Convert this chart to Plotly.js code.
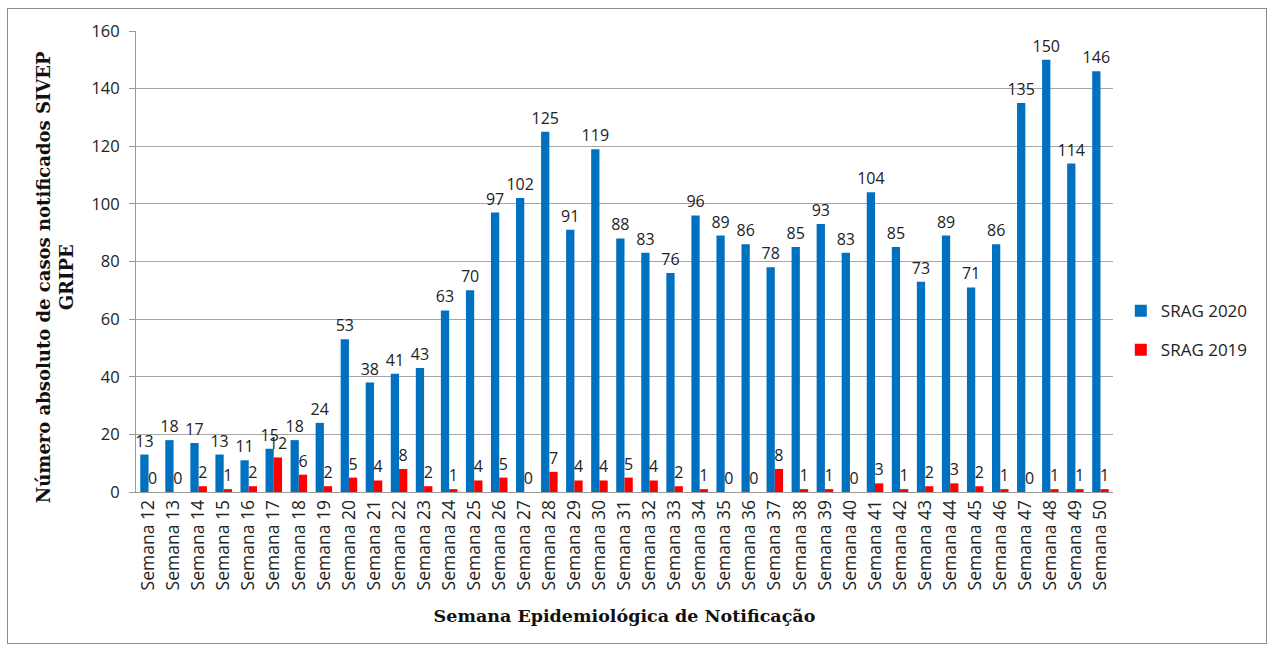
<!DOCTYPE html>
<html>
<head>
<meta charset="utf-8">
<script src="https://cdn.plot.ly/plotly-3.0.1.min.js"></script>
<style>
html,body{margin:0;padding:0;background:#fff;}
#frame{position:absolute;left:7px;top:8px;width:1260px;height:636px;border:1px solid #8c8c8c;box-sizing:border-box;}
#chart{position:absolute;left:0;top:0;width:1273px;height:647px;}
</style>
</head>
<body>
<div id="frame"></div>
<div id="chart"></div>
<script>
const weeks = [12,13,14,15,16,17,18,19,20,21,22,23,24,25,26,27,28,29,30,31,32,33,34,35,36,37,38,39,40,41,42,43,44,45,46,47,48,49,50];
const categories = weeks.map(w => "Semana " + w);
const srag2020 = [13,18,17,13,11,15,18,24,53,38,41,43,63,70,97,102,125,91,119,88,83,76,96,89,86,78,85,93,83,104,85,73,89,71,86,135,150,114,146];
const srag2019 = [0,0,2,1,2,12,6,2,5,4,8,2,1,4,5,0,7,4,4,5,4,2,1,0,0,8,1,1,0,3,1,2,3,2,1,0,1,1,1];
const yTicks = [0,20,40,60,80,100,120,140,160];

const labelFont = {family: "Open Sans, sans-serif", size: 16, color: "#222"};
const traces = [
  {type: "bar", name: "SRAG 2020", x: categories, y: srag2020, marker: {color: "#0070C0"},
   text: srag2020.map(String), textposition: "outside", textangle: 0, constraintext: "none",
   cliponaxis: false, textfont: labelFont, legendgroup: "a"},
  {type: "bar", name: "SRAG 2019", x: categories, y: srag2019, marker: {color: "#FF0000"},
   text: srag2019.map(String), textposition: "outside", textangle: 0, constraintext: "none",
   cliponaxis: false, textfont: labelFont, legendgroup: "b"}
];

const layout = {
  width: 1273, height: 647,
  margin: {l: 136, r: 160, t: 31, b: 155},
  paper_bgcolor: "rgba(0,0,0,0)", plot_bgcolor: "rgba(0,0,0,0)",
  barmode: "group", bargap: 0.34, bargroupgap: 0,
  font: {family: "Open Sans, sans-serif", color: "#222"},
  showlegend: true,
  legend: {x: 1.008, y: 0.35, xanchor: "left", yanchor: "middle", font: {size: 17, color: "#222"},
           traceorder: "grouped", tracegroupgap: 14, itemwidth: 30},
  xaxis: {type: "category", tickangle: -90, tickfont: {size: 17.5, color: "#222"},
          showline: true, linecolor: "#9a9a9a", linewidth: 1, ticks: "", showgrid: false,
          automargin: false,
          title: {text: "Semana Epidemiológica de Notificação", standoff: 20,
                  font: {family: "DejaVu Serif, serif", size: 17.5, color: "#111", weight: "bold"}}},
  yaxis: {range: [0, 160], tickvals: yTicks, ticktext: yTicks.map(String),
          tickfont: {size: 16.5, color: "#222"}, showgrid: true, gridcolor: "#a6a6a6", gridwidth: 1,
          showline: true, linecolor: "#9a9a9a", ticks: "outside", ticklen: 6, tickcolor: "#9a9a9a",
          ticklabelstandoff: 6, zeroline: false, automargin: false},
  annotations: [{
    text: "<b>Número absoluto de casos notificados SIVEP<br>GRIPE</b>",
    xref: "paper", yref: "paper", x: -0.0829, y: 0.466, xanchor: "center", yanchor: "middle",
    textangle: -90, showarrow: false,
    font: {family: "DejaVu Serif, serif", size: 18, color: "#111"}
  }]
};

Plotly.newPlot("chart", traces, layout, {displayModeBar: false, staticPlot: true});
</script>
</body>
</html>
